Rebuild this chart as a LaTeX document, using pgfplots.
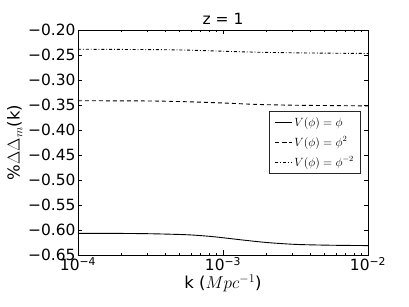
\documentclass[border=0pt]{standalone}
\usepackage{fontspec}
\setmainfont{DejaVu Sans}
\usepackage{pgfplots}
\pgfplotsset{compat=1.18}
\begin{document}
\begin{tikzpicture}
\begin{axis}[
  scale only axis,
  width=290bp, height=225bp,
  xmode=log,
  xmin=1e-4, xmax=1e-2,
  ymin=-0.65, ymax=-0.20,
  xtick={1e-4,1e-3,1e-2},
  xticklabels={10\textsuperscript{−4},10\textsuperscript{−3},10\textsuperscript{−2}},
  ytick={-0.65,-0.60,-0.55,-0.50,-0.45,-0.40,-0.35,-0.30,-0.25,-0.20},
  yticklabels={−0.65,−0.60,−0.55,−0.50,−0.45,−0.40,−0.35,−0.30,−0.25,−0.20},
  tick label style={font=\fontsize{15.5}{18}\selectfont},
  xticklabel style={yshift=1bp},
  yticklabel style={xshift=1bp},
  tick align=inside,
  major tick length=4.5bp,
  minor tick length=2.2bp,
  axis line style={line width=0.8pt},
  every tick/.style={black, line width=0.5pt},
  title={z = 1},
  title style={font=\fontsize{15.5}{18}\selectfont, yshift=-4bp},
  xlabel={k ($Mpc^{-1}$)},
  ylabel={$\%\Delta\Delta_m$(k)},
  label style={font=\fontsize{16.5}{19}\selectfont},
  xlabel style={yshift=3bp},
  ylabel style={yshift=-1bp},
  legend style={
    at={(rel axis cs:0.977,0.5)}, anchor=east,
    font=\fontsize{11.5}{13}\selectfont,
    draw=black!85, line width=0.9pt,
    row sep=5bp, inner xsep=5bp, inner ysep=3.5bp,
    legend cell align=left,
  },
  legend image post style={line width=0.9pt},
]
\addplot[black, line width=0.9pt, smooth] coordinates {
(1e-4,-0.6067) (1.778e-4,-0.6068) (3.162e-4,-0.6075) (5.623e-4,-0.6095)
(7.943e-4,-0.6125) (1e-3,-0.6155) (1.413e-3,-0.6205) (1.995e-3,-0.6250)
(3.162e-3,-0.6288) (5.623e-3,-0.6305) (1e-2,-0.6312)
};
\addlegendentry{$V(\phi)=\phi$}
\addplot[black, line width=0.9pt, smooth, dash pattern=on 4bp off 3bp] coordinates {
(1e-4,-0.3415) (3.162e-4,-0.3420) (5.623e-4,-0.3435) (1e-3,-0.3460)
(1.778e-3,-0.3490) (3.162e-3,-0.3505) (5.623e-3,-0.3512) (1e-2,-0.3518)
};
\addlegendentry{$V(\phi)=\phi^2$}
\addplot[black, line width=0.9pt, smooth, dash pattern=on 3bp off 2bp on 0.8bp off 2bp] coordinates {
(1e-4,-0.2385) (3.162e-4,-0.2392) (5.623e-4,-0.2402) (1e-3,-0.2425)
(1.778e-3,-0.2445) (3.162e-3,-0.2457) (5.623e-3,-0.2464) (1e-2,-0.2470)
};
\addlegendentry{$V(\phi)=\phi^{-2}$}
\end{axis}
\path ([xshift=-78bp,yshift=-52bp]current axis.south west) rectangle ([xshift=41bp,yshift=30bp]current axis.north east);
\end{tikzpicture}
\end{document}
